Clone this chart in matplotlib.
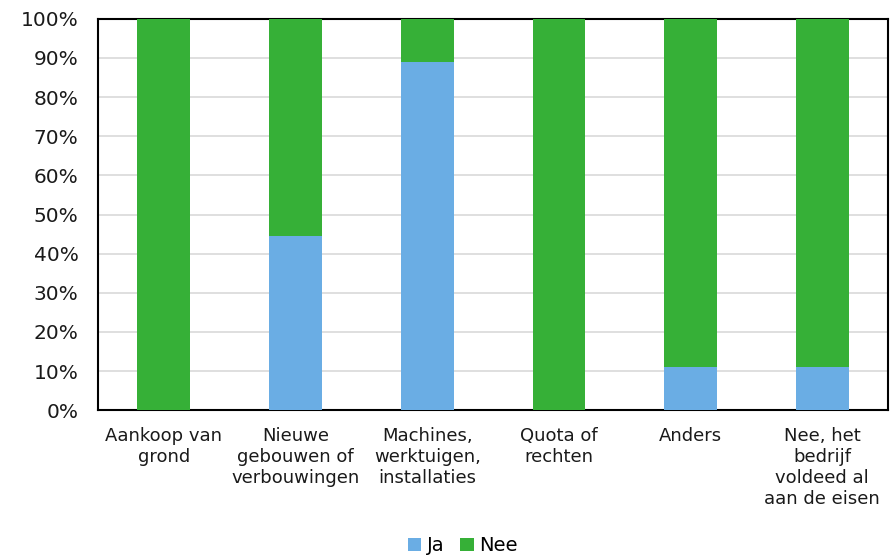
import matplotlib
matplotlib.use("Agg")
import matplotlib.pyplot as plt
import numpy as np
from matplotlib.ticker import PercentFormatter

categories = ["Aankoop van\ngrond", "Nieuwe\ngebouwen of\nverbouwingen",
              "Machines,\nwerktuigen,\ninstallaties", "Quota of\nrechten",
              "Anders", "Nee, het\nbedrijf\nvoldeed al\naan de eisen"]
ja = [0.0, 44.4, 88.9, 0.0, 11.1, 11.1]
nee = [100.0, 55.6, 11.1, 100.0, 88.9, 88.9]

BLUE = "#6AADE4"
GREEN = "#36B037"

plt.rcParams["font.family"] = "DejaVu Sans"

fig = plt.figure(figsize=(8.9, 5.55), dpi=100)
ax = fig.add_axes([0.110, 0.261, 0.888, 0.705])

x = np.arange(len(categories))
ax.bar(x, ja, width=0.4, color=BLUE, label="Ja", zorder=3)
ax.bar(x, nee, width=0.4, bottom=ja, color=GREEN, label="Nee", zorder=3)

ax.set_xlim(-0.5, len(categories) - 0.5)
ax.set_ylim(0, 100)
ax.set_yticks(np.arange(0, 101, 10))
ax.yaxis.set_major_formatter(PercentFormatter(decimals=0))
ax.grid(axis="y", color="#D9D9D9", linewidth=1.2, zorder=0)
ax.set_xticks(x)
ax.set_xticklabels(categories, fontsize=13, color="#1a1a1a", linespacing=1.22)
ax.tick_params(axis="y", labelsize=14.5, length=0, pad=14, colors="#1a1a1a")
ax.tick_params(axis="x", length=0, pad=12)
for s in ax.spines.values():
    s.set_color("black")
    s.set_linewidth(1.5)

fig.legend(loc="lower center", ncol=2, frameon=False, fontsize=14,
           bbox_to_anchor=(0.52, -0.032), handlelength=0.7, handleheight=0.7,
           handletextpad=0.3, columnspacing=0.8)

fig.savefig("out.png", dpi=100, facecolor="white")
